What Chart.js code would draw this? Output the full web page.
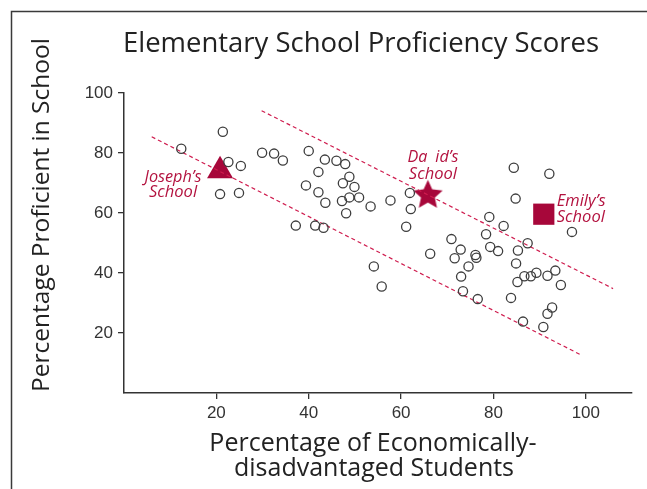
<!DOCTYPE html>
<html>
<head>
<meta charset="utf-8">
<script src="https://cdn.jsdelivr.net/npm/chart.js@4"></script>
<style>
  html, body { margin: 0; padding: 0; background: #fff; }
  #wrap { width: 647px; height: 489px; }
</style>
</head>
<body>
<div id="wrap"><canvas id="chart" width="647" height="489"></canvas></div>
<script>
// open circles: one per school
const schoolX = [12.4, 21.4, 22.6, 25.3, 20.8, 24.9, 29.9, 32.5, 34.4, 40.0,
  43.5, 46.0, 47.9, 42.1, 48.8, 39.4, 47.4, 49.9, 42.1, 43.6,
  47.2, 48.8, 50.9, 48.1, 53.4, 57.7, 61.9, 62.1, 37.2, 41.4,
  43.2, 61.1, 70.9, 72.9, 66.3, 71.6, 74.6, 73.0, 73.4, 54.1,
  55.8, 84.4, 92.1, 84.8, 97.0, 79.1, 82.2, 78.4, 87.4, 79.3,
  81.0, 85.3, 76.1, 76.3, 84.9, 85.2, 86.7, 88.1, 89.3, 91.7,
  93.4, 94.6, 76.6, 83.8, 92.7, 91.7, 86.4, 90.8];
const schoolY = [81.4, 87.1, 77.0, 75.7, 66.3, 66.7, 80.1, 79.8, 77.5, 80.7,
  77.8, 77.4, 76.3, 73.7, 72.1, 69.2, 69.9, 68.7, 66.9, 63.4,
  64.0, 65.2, 65.2, 59.9, 62.2, 64.2, 66.7, 61.3, 55.8, 55.8,
  55.1, 55.4, 51.3, 47.8, 46.4, 44.9, 42.2, 38.8, 33.9, 42.2,
  35.5, 75.1, 73.1, 64.8, 53.7, 58.7, 55.7, 52.9, 49.9, 48.7,
  47.3, 47.5, 46.0, 45.1, 43.2, 37.0, 38.9, 38.9, 40.1, 39.1,
  40.8, 36.0, 31.3, 31.7, 28.5, 26.4, 23.8, 22.0];

// highlighted schools
const josephPoint = [20.8, 74.1];
const davidPoint = [65.8, 65.9];
const emilyPoint = [90.9, 59.6];

// dashed band
const upperBandX = [29.8, 105.9];
const upperBandY = [94.1, 34.8];
const lowerBandX = [6.0, 99.2];
const lowerBandY = [85.4, 12.5];

const xTicks = [20, 40, 60, 80, 100];
const yTicks = [20, 40, 60, 80, 100];

const chartTitle = "Elementary School Proficiency Scores";
const yTitle = "Percentage Proficient in School";
const xTitle = ["Percentage of Economically-", "disadvantaged Students"];
const josephLabel = ["Joseph\u2019s", "School"];
const davidLabel = ["Da\u2002id\u2019s", "School"];
const emilyLabel = ["Emily\u2019s", "School"];

const markRed = "#a7073a";
const lineRed = "#cf1d4f";
const textRed = "#b3123f";
const ink = "#333333";

function pts(xs, ys) {
  return xs.map((x, i) => ({ x: x, y: ys[i] }));
}

function makeStar(r, color) {
  const c = document.createElement("canvas");
  const size = Math.ceil(r * 2) + 2;
  c.width = size;
  c.height = size;
  const g = c.getContext("2d");
  const cx = size / 2, cy = size / 2;
  g.beginPath();
  for (let i = 0; i < 10; i++) {
    const rr = i % 2 === 0 ? r : r * 0.47;
    const a = -Math.PI / 2 + i * Math.PI / 5;
    g.lineTo(cx + rr * Math.cos(a), cy + rr * Math.sin(a));
  }
  g.closePath();
  g.fillStyle = color;
  g.fill();
  return c;
}

const starImg = makeStar(15.5, markRed);

function drawLines(c, lines, x, y, dy, maxW) {
  lines.forEach((t, i) => c.fillText(t, x, y + i * dy, maxW));
}

const textPlugin = {
  id: "textPlugin",
  beforeDraw(chart) {
    const c = chart.ctx;
    c.save();
    c.fillStyle = "#fff";
    c.fillRect(0, 0, chart.width, chart.height);
    c.restore();
  },
  afterDraw(chart) {
    const c = chart.ctx;
    const xs = chart.scales.x, ys = chart.scales.y;
    c.save();

    // outer frame (runs off the right and bottom)
    c.strokeStyle = "#3a3a3a";
    c.lineWidth = 1.5;
    c.beginPath();
    c.moveTo(11.5, chart.height);
    c.lineTo(11.5, 11.5);
    c.lineTo(chart.width, 11.5);
    c.stroke();

    c.fillStyle = "#222";
    c.textAlign = "center";
    c.textBaseline = "alphabetic";
    c.font = '27.5px "Open Sans"';
    c.fillText(chartTitle, 361, 52, 476);

    c.font = '25px "Open Sans"';
    c.fillText(xTitle[0], 373, 451, 329);
    c.fillText(xTitle[1], 374, 476, 282);

    c.save();
    c.translate(49, 215);
    c.rotate(-Math.PI / 2);
    c.font = '24.5px "Open Sans"';
    c.fillText(yTitle, 0, 0, 362);
    c.restore();

    // marker labels
    c.fillStyle = textRed;
    c.font = 'italic 16.5px "Open Sans"';
    const jx = xs.getPixelForValue(josephPoint[0]), jy = ys.getPixelForValue(josephPoint[1]);
    c.textAlign = "center";
    drawLines(c, josephLabel, jx - 47, jy + 11, 15, 57);
    const dx = xs.getPixelForValue(davidPoint[0]), dy = ys.getPixelForValue(davidPoint[1]);
    drawLines(c, davidLabel, dx + 5, dy - 33, 17, 51);
    const ex = xs.getPixelForValue(emilyPoint[0]), ey = ys.getPixelForValue(emilyPoint[1]);
    c.textAlign = "left";
    drawLines(c, emilyLabel, ex + 13, ey - 8, 16, 49);

    c.restore();
  }
};

const ctx = document.getElementById("chart").getContext("2d");

new Chart(ctx, {
  type: "scatter",
  data: {
    datasets: [
      {
        label: "Schools",
        data: pts(schoolX, schoolY),
        pointStyle: "circle",
        pointRadius: 4.6,
        borderColor: "#3d3d3d",
        borderWidth: 1.3,
        backgroundColor: "rgba(255,255,255,0)"
      },
      {
        label: "Upper band",
        type: "line",
        data: pts(upperBandX, upperBandY),
        borderColor: lineRed,
        borderWidth: 1.2,
        borderDash: [4, 3],
        pointRadius: 0,
        fill: false
      },
      {
        label: "Lower band",
        type: "line",
        data: pts(lowerBandX, lowerBandY),
        borderColor: lineRed,
        borderWidth: 1.2,
        borderDash: [4, 3],
        pointRadius: 0,
        fill: false
      },
      {
        label: "Joseph's School",
        data: [{ x: josephPoint[0], y: josephPoint[1] }],
        pointStyle: "triangle",
        pointRadius: 15,
        backgroundColor: markRed,
        borderWidth: 0
      },
      {
        label: "David's School",
        data: [{ x: davidPoint[0], y: davidPoint[1] }],
        pointStyle: starImg,
        pointRadius: 15,
        backgroundColor: markRed,
        borderWidth: 0
      },
      {
        label: "Emily's School",
        data: [{ x: emilyPoint[0], y: emilyPoint[1] }],
        pointStyle: "rect",
        pointRadius: 15,
        backgroundColor: markRed,
        borderWidth: 0
      }
    ]
  },
  options: {
    responsive: false,
    animation: false,
    layout: { padding: { top: 93, right: 9, left: 0, bottom: 0 } },
    plugins: {
      legend: { display: false },
      tooltip: { enabled: false }
    },
    scales: {
      x: {
        type: "linear",
        min: 0,
        max: 110,
        afterFit(s) {
          s.height = 96;
          s.paddingLeft = 0;
          s.paddingRight = 0;
        },
        afterBuildTicks(s) { s.ticks = xTicks.map(v => ({ value: v })); },
        grid: { drawOnChartArea: false, tickLength: 6, color: ink, lineWidth: 1.3 },
        border: { color: ink, width: 1.5 },
        ticks: { color: ink, font: { family: "Liberation Sans", size: 17 }, padding: 4, maxRotation: 0 }
      },
      y: {
        type: "linear",
        min: 0,
        max: 100,
        afterFit(s) {
          s.width = 124;
          s.paddingTop = 0;
          s.paddingBottom = 0;
        },
        afterBuildTicks(s) { s.ticks = yTicks.map(v => ({ value: v })); },
        grid: { drawOnChartArea: false, tickLength: 6, color: ink, lineWidth: 1.3 },
        border: { color: ink, width: 1.5 },
        ticks: { color: ink, font: { family: "Liberation Sans", size: 17 }, padding: 5 }
      }
    }
  },
  plugins: [textPlugin]
});
</script>
</body>
</html>
